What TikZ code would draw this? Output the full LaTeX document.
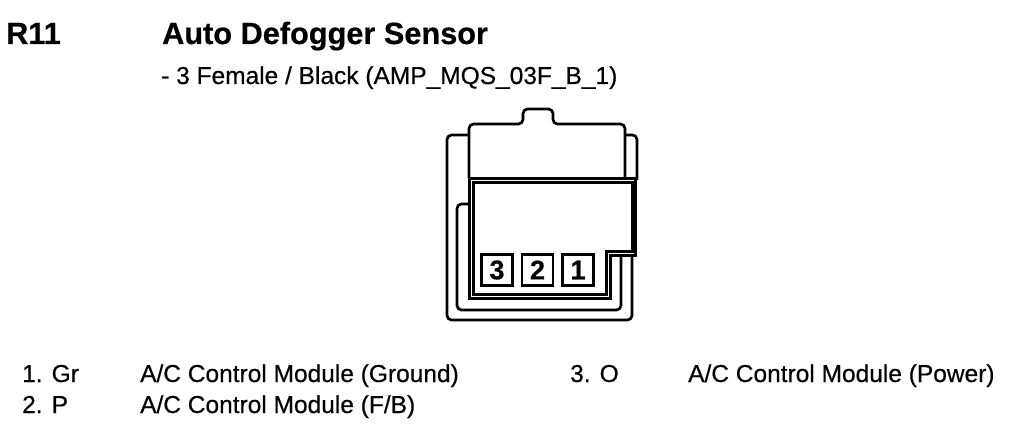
\documentclass[tikz,border=0pt]{standalone}
\usepackage{fontspec}
\setmainfont{Liberation Sans}
\newfontfamily\headfont[FakeBold=0.5]{Liberation Sans Bold}
\newfontfamily\wirefont[FakeBold=0.5]{Liberation Sans}
\tikzset{
x=1pt, y=-1pt,
shell/.style={line width=2.7pt, line join=round, rounded corners=4.5pt},
tower/.style={line width=3pt, line join=miter},
pinbox/.style={draw, line width=2.7pt, minimum width=31pt, minimum height=31pt, inner sep=0pt, font=\fontsize{27}{27}\selectfont\headfont},
title/.style={anchor=base west, inner sep=0pt, font=\fontsize{30.7}{30.7}\selectfont\headfont},
wire/.style={anchor=base west, inner sep=0pt, font=\fontsize{24.5}{24.5}\selectfont\wirefont},
}
\begin{document}
\begin{tikzpicture}
    \useasboundingbox (0,0) rectangle (1020,436);
    % headings
    \node[title] (code) at (6,44) {R11};
    \node[title] (name) at (162,44) {Auto Defogger Sensor};
    \node[wire] (part) at (161,84) {- 3 Female / Black (AMP\_MQS\_03F\_B\_1)};
    % connector body
    \draw[shell] (468,135) -- (447,135) -- (447,320) -- (632,320) -- (632,255);
    \draw[shell] (626,135) -- (637,135) -- (637,180);
    \draw[shell] (468,204) -- (457,204) -- (457,310) -- (621,310) -- (621,255);
    \draw[shell] (469,178) -- (469,124) -- (523,124) -- (523,109) -- (553,109) -- (553,124) -- (625,124) -- (625,178);
    \draw[tower] (469,178) -- (635.5,178) -- (635.5,255) -- (610,255) -- (610,298) -- (469,298) -- cycle;
    \draw[tower] (473.5,182) -- (632,182) -- (632,251) -- (606,251) -- (606,294) -- (473.5,294) -- cycle;
    % pins
    \node[pinbox] (pin3) at (497,270) {3};
    \node[pinbox] (pin2) at (537.5,270) {2};
    \node[pinbox] (pin1) at (578,270) {1};
    % wire list
    \node[wire] (w1) at (22,382) {1. Gr};
    \node[wire] (d1) at (140,382) {A/C Control Module (Ground)};
    \node[wire] (w2) at (22,413) {2. P};
    \node[wire] (d2) at (140,413) {A/C Control Module (F/B)};
    \node[wire] (w3) at (570,382) {3. O};
    \node[wire] (d3) at (688,382) {A/C Control Module (Power)};
\end{tikzpicture}
\end{document}
